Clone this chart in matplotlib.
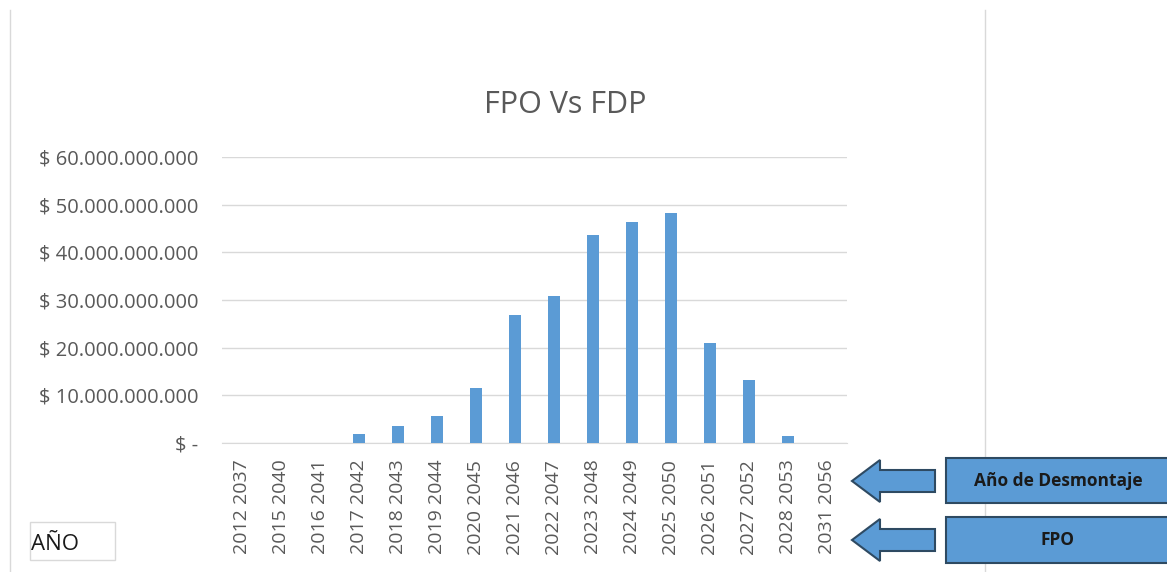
import matplotlib.pyplot as plt
from matplotlib.patches import Polygon, Rectangle

plt.rcParams['font.family'] = ['Open Sans', 'DejaVu Sans']

# data
fpo_years = ['2012', '2015', '2016', '2017', '2018', '2019', '2020', '2021',
             '2022', '2023', '2024', '2025', '2026', '2027', '2028', '2031']
desmontaje_years = ['2037', '2040', '2041', '2042', '2043', '2044', '2045', '2046',
                    '2047', '2048', '2049', '2050', '2051', '2052', '2053', '2056']
valores = [0, 0, 0, 1.9e9, 3.6e9, 5.7e9, 11.5e9, 26.8e9,
           30.8e9, 43.6e9, 46.3e9, 48.2e9, 21.0e9, 13.2e9, 1.5e9, 0]
y_ticks = [0, 10e9, 20e9, 30e9, 40e9, 50e9, 60e9]

labels = [f'{a} {b}' for a, b in zip(fpo_years, desmontaje_years)]

def fmt(v):
    if v == 0:
        return '$ -'
    return '$ ' + f'{int(v):,}'.replace(',', '.')

W, H = 1167, 572
fig = plt.figure(figsize=(W / 100, H / 100), dpi=100)
fig.patch.set_facecolor('white')

ax = fig.add_axes([222 / W, 1 - 443 / H, (847 - 222) / W, (443 - 157) / H])
x = range(len(labels))
ax.bar(x, valores, width=0.31, color='#5B9BD5', zorder=3)
ax.set_xlim(-0.5, len(labels) - 0.5)
ax.set_ylim(0, 60e9)
ax.set_yticks(y_ticks)
ax.set_yticklabels([fmt(v) for v in y_ticks], fontsize=14.5, color='#595959')
ax.set_xticks(list(x))
ax.set_xticklabels(labels, rotation=90, fontsize=14, color='#595959')
ax.tick_params(length=0)
ax.tick_params(axis='y', pad=17)
ax.tick_params(axis='x', pad=12)
ax.grid(axis='y', color='#D9D9D9', linewidth=1, zorder=0)
for s in ['top', 'right', 'left']:
    ax.spines[s].set_visible(False)
ax.spines['bottom'].set_color('#D9D9D9')

# overlay in pixel coords for the sheet decorations
ov = fig.add_axes([0, 0, 1, 1], zorder=5)
ov.set_xlim(0, W)
ov.set_ylim(H, 0)
ov.axis('off')
ov.patch.set_alpha(0)

ov.plot([10, 10], [10, H], color='#D9D9D9', lw=1, zorder=0)
ov.plot([985, 985], [10, H], color='#D9D9D9', lw=1, zorder=0)

ov.text(565, 105, 'FPO Vs FDP', fontsize=22, color='#595959', ha='center', va='center')

def arrow(yc):
    pts = [(852, yc), (880, yc - 21), (880, yc - 11), (935, yc - 11),
           (935, yc + 11), (880, yc + 11), (880, yc + 21)]
    ov.add_patch(Polygon(pts, closed=True, facecolor='#5B9BD5', edgecolor='#2E4A62',
                         lw=1.5, zorder=2))

arrow(481)
arrow(540)

ov.add_patch(Rectangle((946, 458), 230, 45, facecolor='#5B9BD5', edgecolor='#2E4A62',
                       lw=1.5, zorder=2))
ov.add_patch(Rectangle((946, 517), 230, 46, facecolor='#5B9BD5', edgecolor='#2E4A62',
                       lw=1.5, zorder=2))
ov.text(1058, 481, 'Año de Desmontaje', fontsize=12.5, fontweight='bold', color='#1a1a1a',
        ha='center', va='center', zorder=3)
ov.text(1058, 540, 'FPO', fontsize=12.5, fontweight='bold', color='#1a1a1a',
        ha='center', va='center', zorder=3)

ov.add_patch(Rectangle((30, 522), 85, 38, facecolor='white', edgecolor='#D9D9D9', lw=1))
ov.text(31, 544, 'AÑO', fontsize=16, color='#1a1a1a', ha='left', va='center')

fig.savefig('out.png', dpi=100)
